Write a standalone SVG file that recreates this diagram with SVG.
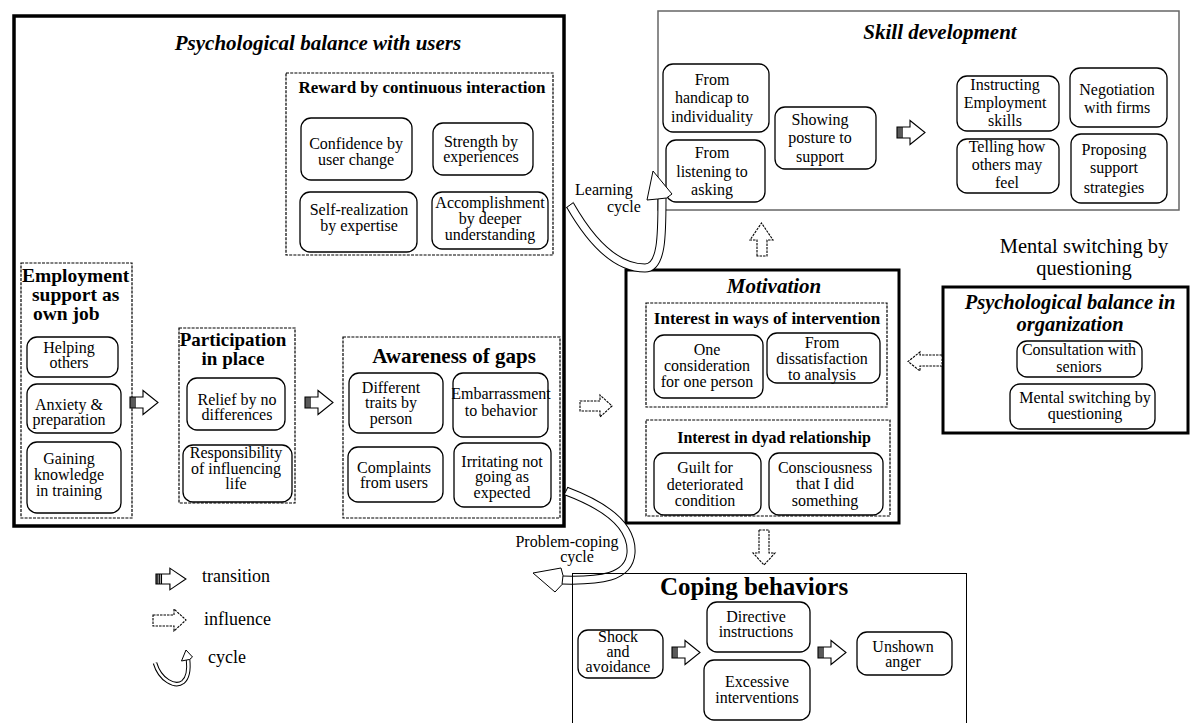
<svg xmlns="http://www.w3.org/2000/svg" xmlns:xlink="http://www.w3.org/1999/xlink" width="1192" height="723" viewBox="0 0 1192 723">
  <style>
    text { font-family: "Liberation Serif", "Times New Roman", serif; fill: #000; }
    .t { font-size: 16px; text-anchor: middle; }
    .ts { font-size: 16px; }
    .big { font-size: 20.5px; text-anchor: middle; }
    .h { font-weight: bold; text-anchor: middle; }
    .hi { font-weight: bold; font-style: italic; text-anchor: middle; }
    .lg { font-size: 18px; }
    .thick { fill: none; stroke: #000; stroke-width: 3.5; }
    .thick3 { fill: none; stroke: #000; stroke-width: 3; }
    .dash { fill: none; stroke: #000; stroke-width: 1.2; stroke-dasharray: 3 1.2; }
    .rb { fill: #fff; stroke: #000; stroke-width: 1.3; }
    .infl { fill: #fff; stroke: #000; stroke-width: 1.1; stroke-dasharray: 2.5 1; }
    .band-o { fill: none; stroke: #000; stroke-width: 9; }
    .band-i { fill: none; stroke: #fff; stroke-width: 7; }
    .head { fill: #fff; stroke: #000; stroke-width: 1; stroke-linejoin: miter; }
  </style>
  <defs>
    <!-- solid "transition" block arrow, origin at the tail's left-centre -->
    <g id="tr">
      <polygon points="0,-5.5 13,-5.5 13,-12 28,0 13,12 13,5.5 0,5.5" fill="#fff" stroke="#000" stroke-width="1.1"/>
      <path d="M1,-5.5V5.5M3,-5.5V5.5M5,-5.5V5.5" stroke="#000" stroke-width="1.3"/>
    </g>
  </defs>

  <rect width="1192" height="723" fill="#fff"/>

  <!-- Psychological balance with users -->
  <g id="balance-users">
    <rect class="thick" x="14" y="16" width="550" height="510"/>
    <text class="hi" x="318" y="50" font-size="21">Psychological balance with users</text>
  </g>

  <g id="reward">
    <rect class="dash" x="286" y="73" width="267" height="182"/>
    <text class="h" x="422" y="93" font-size="17">Reward by continuous interaction</text>
    <rect class="rb" x="301" y="118" width="111" height="62" rx="10"/>
    <text class="t" x="356" y="149">Confidence by</text>
    <text class="t" x="356" y="165">user change</text>
    <rect class="rb" x="433" y="123" width="100" height="52" rx="10"/>
    <text class="t" x="481" y="147">Strength by</text>
    <text class="t" x="481" y="162">experiences</text>
    <rect class="rb" x="300" y="192" width="117" height="60" rx="10"/>
    <text class="t" x="359" y="215">Self-realization</text>
    <text class="t" x="359" y="231">by expertise</text>
    <rect class="rb" x="432" y="192" width="116" height="57" rx="10"/>
    <text class="t" x="490" y="208">Accomplishment</text>
    <text class="t" x="490" y="224">by deeper</text>
    <text class="t" x="490" y="240">understanding</text>
  </g>

  <g id="employment">
    <rect class="dash" x="21" y="263" width="111" height="255"/>
    <text x="22" y="282" font-size="19.5" font-weight="bold">Employment</text>
    <text x="32" y="301" font-size="19.5" font-weight="bold">support as</text>
    <text x="33" y="320" font-size="19.5" font-weight="bold">own job</text>
    <rect class="rb" x="27" y="337" width="91" height="40" rx="10"/>
    <text class="t" x="69" y="353">Helping</text>
    <text class="t" x="69" y="368">others</text>
    <rect class="rb" x="27" y="384" width="94" height="49" rx="10"/>
    <text class="t" x="69" y="410">Anxiety &amp;</text>
    <text class="t" x="69" y="425">preparation</text>
    <rect class="rb" x="27" y="442" width="94" height="71" rx="10"/>
    <text class="t" x="69" y="464">Gaining</text>
    <text class="t" x="69" y="480">knowledge</text>
    <text class="t" x="69" y="496">in training</text>
  </g>

  <g id="participation">
    <rect class="dash" x="179" y="328" width="116" height="175"/>
    <text class="h" x="233" y="346" font-size="19">Participation</text>
    <text class="h" x="233" y="365" font-size="19">in place</text>
    <rect class="rb" x="187" y="378" width="98" height="52" rx="10"/>
    <text class="t" x="237" y="405">Relief by no</text>
    <text class="t" x="237" y="420">differences</text>
    <rect class="rb" x="183" y="445" width="109" height="57" rx="10"/>
    <text class="t" x="236" y="458">Responsibility</text>
    <text class="t" x="236" y="474">of influencing</text>
    <text class="t" x="236" y="489">life</text>
  </g>

  <g id="awareness">
    <rect class="dash" x="343" y="337" width="217" height="181"/>
    <text class="h" x="454" y="363" font-size="21">Awareness of gaps</text>
    <rect class="rb" x="349" y="373" width="94" height="60" rx="10"/>
    <text class="t" x="391" y="393">Different</text>
    <text class="t" x="391" y="408">traits by</text>
    <text class="t" x="391" y="424">person</text>
    <rect class="rb" x="453" y="373" width="95" height="64" rx="10"/>
    <text class="t" x="501" y="399">Embarrassment</text>
    <text class="t" x="501" y="416">to behavior</text>
    <rect class="rb" x="348" y="447" width="95" height="55" rx="10"/>
    <text class="t" x="394" y="473">Complaints</text>
    <text class="t" x="394" y="488">from users</text>
    <rect class="rb" x="454" y="443" width="97" height="64" rx="10"/>
    <text class="t" x="502" y="467">Irritating not</text>
    <text class="t" x="502" y="482">going as</text>
    <text class="t" x="502" y="498">expected</text>
  </g>

  <!-- Skill development -->
  <g id="skill">
    <rect x="658" y="11" width="521" height="199" fill="none" stroke="#666" stroke-width="1.5"/>
    <text class="hi" x="940" y="39" font-size="21">Skill development</text>
    <rect class="rb" x="663" y="64" width="106" height="68" rx="10"/>
    <text class="t" x="712" y="85">From</text>
    <text class="t" x="712" y="103">handicap to</text>
    <text class="t" x="712" y="122">individuality</text>
    <rect class="rb" x="666" y="140" width="99" height="62" rx="10"/>
    <text class="t" x="712" y="158">From</text>
    <text class="t" x="712" y="177">listening to</text>
    <text class="t" x="712" y="195">asking</text>
    <rect class="rb" x="775" y="107" width="101" height="62" rx="10"/>
    <text class="t" x="820" y="125">Showing</text>
    <text class="t" x="820" y="143">posture to</text>
    <text class="t" x="820" y="162">support</text>
    <rect class="rb" x="957" y="76" width="102" height="55" rx="10"/>
    <text class="t" x="1005" y="90">Instructing</text>
    <text class="t" x="1005" y="108">Employment</text>
    <text class="t" x="1005" y="126">skills</text>
    <rect class="rb" x="1070" y="68" width="97" height="59" rx="10"/>
    <text class="t" x="1117" y="95">Negotiation</text>
    <text class="t" x="1117" y="113">with firms</text>
    <rect class="rb" x="957" y="139" width="102" height="54" rx="10"/>
    <text class="t" x="1007" y="152">Telling how</text>
    <text class="t" x="1007" y="170">others may</text>
    <text class="t" x="1007" y="188">feel</text>
    <rect class="rb" x="1071" y="134" width="96" height="69" rx="10"/>
    <text class="t" x="1114" y="155">Proposing</text>
    <text class="t" x="1114" y="173">support</text>
    <text class="t" x="1114" y="193">strategies</text>
  </g>

  <!-- Motivation -->
  <g id="motivation">
    <rect class="thick3" x="626" y="270" width="273" height="253"/>
    <text class="hi" x="774" y="293" font-size="21">Motivation</text>
    <rect class="dash" x="646" y="303" width="241" height="104"/>
    <text class="h" x="767" y="324" font-size="17">Interest in ways of intervention</text>
    <rect class="rb" x="654" y="335" width="109" height="63" rx="10"/>
    <text class="t" x="707" y="355">One</text>
    <text class="t" x="707" y="371">consideration</text>
    <text class="t" x="707" y="387">for one person</text>
    <rect class="rb" x="767" y="333" width="113" height="50" rx="10"/>
    <text class="t" x="822" y="348">From</text>
    <text class="t" x="822" y="364">dissatisfaction</text>
    <text class="t" x="822" y="380">to analysis</text>
    <rect class="dash" x="646" y="420" width="244" height="96"/>
    <text class="h" x="774" y="443" font-size="16">Interest in dyad relationship</text>
    <rect class="rb" x="654" y="453" width="107" height="62" rx="10"/>
    <text class="t" x="705" y="473">Guilt for</text>
    <text class="t" x="705" y="490">deteriorated</text>
    <text class="t" x="705" y="506">condition</text>
    <rect class="rb" x="769" y="453" width="114" height="62" rx="10"/>
    <text class="t" x="825" y="473">Consciousness</text>
    <text class="t" x="825" y="489">that I did</text>
    <text class="t" x="825" y="506">something</text>
  </g>

  <!-- Psychological balance in organization -->
  <g id="balance-org">
    <text class="big" x="1084" y="253">Mental switching by</text>
    <text class="big" x="1084" y="275">questioning</text>
    <rect class="thick3" x="943" y="287" width="245" height="146"/>
    <text class="hi" x="1070" y="309" font-size="20.5">Psychological balance in</text>
    <text class="hi" x="1070" y="331" font-size="20.5">organization</text>
    <rect class="rb" x="1017" y="341" width="125" height="36" rx="10"/>
    <text class="t" x="1079" y="355">Consultation with</text>
    <text class="t" x="1079" y="372">seniors</text>
    <rect class="rb" x="1010" y="384" width="145" height="45" rx="10"/>
    <text class="t" x="1085" y="403">Mental switching by</text>
    <text class="t" x="1085" y="419">questioning</text>
  </g>

  <!-- Connectors: transitions, influences and cycles -->
  <g id="connectors">
    <use xlink:href="#tr" href="#tr" x="130" y="402.5"/>
    <use xlink:href="#tr" href="#tr" x="305" y="402.5"/>
    <use xlink:href="#tr" href="#tr" x="897" y="132.5"/>
    <use xlink:href="#tr" href="#tr" x="672" y="652.5"/>
    <use xlink:href="#tr" href="#tr" x="818" y="652.5"/>

    <polygon class="infl" points="580,401 600,401 600,395 612,406 600,417 600,411 580,411"/>
    <polygon class="infl" points="757,256 757,240 750,240 761.5,223 773,240 767,240 767,256"/>
    <polygon class="infl" points="759,530 769,530 769,553 775,553 764,565 753,553 759,553"/>
    <polygon class="infl" points="942,355 920,355 920,352 908,361.5 920,371 920,366 942,366"/>

    <!-- learning cycle -->
    <path class="band-o" d="M570,205 C590,240 615,268 645,268 C662,268 662,235 662,198"/>
    <path class="band-i" d="M570,205 C590,240 615,268 645,268 C662,268 662,235 662,198"/>
    <line x1="566.4" y1="207.7" x2="573.6" y2="202.3" stroke="#000" stroke-width="1"/>
    <polygon class="head" points="657.5,199 647,200 653,171 672,194 666.5,198"/>
    <text class="ts" x="575" y="195">Learning</text>
    <text class="ts" x="607" y="212">cycle</text>

    <!-- problem-coping cycle -->
    <path class="band-o" d="M566,491 C598,503 633,522 631,553 C629,578 600,581 562,580"/>
    <path class="band-i" d="M566,491 C598,503 633,522 631,553 C629,578 600,581 562,580"/>
    <line x1="564" y1="495" x2="568" y2="487" stroke="#000" stroke-width="1"/>
    <polygon class="head" points="563,575.5 561,568 533,573 555,592 562,584.5"/>
    <text class="t" x="567" y="547">Problem-coping</text>
    <text class="t" x="577" y="562">cycle</text>
  </g>

  <!-- Coping behaviors -->
  <g id="coping">
    <rect x="572.5" y="573.5" width="394" height="170" fill="none" stroke="#000" stroke-width="1"/>
    <text class="h" x="754" y="595" font-size="25">Coping behaviors</text>
    <rect class="rb" x="578" y="630" width="85" height="48" rx="10"/>
    <text class="t" x="618" y="642">Shock</text>
    <text class="t" x="618" y="657">and</text>
    <text class="t" x="618" y="672">avoidance</text>
    <rect class="rb" x="707" y="602" width="103" height="50" rx="10"/>
    <text class="t" x="756" y="622">Directive</text>
    <text class="t" x="756" y="637">instructions</text>
    <rect class="rb" x="704" y="660" width="106" height="60" rx="10"/>
    <text class="t" x="757" y="687">Excessive</text>
    <text class="t" x="757" y="703">interventions</text>
    <rect class="rb" x="857" y="632" width="95" height="43" rx="10"/>
    <text class="t" x="903" y="652">Unshown</text>
    <text class="t" x="903" y="667">anger</text>
  </g>

  <!-- Legend -->
  <g id="legend">
    <use xlink:href="#tr" href="#tr" x="156" y="579" transform="translate(156,579) scale(1.07,0.9) translate(-156,-579)"/>
    <text class="lg" x="202" y="582">transition</text>
    <polygon class="infl" points="153,615 174,615 174,609 186,620 174,631 174,626 153,626"/>
    <text class="lg" x="204" y="625">influence</text>
    <path d="M155,663 C160,680 175,688 183,682 C189,677 189,668 188,659" fill="none" stroke="#000" stroke-width="4.5"/>
    <path d="M155,663 C160,680 175,688 183,682 C189,677 189,668 188,659" fill="none" stroke="#fff" stroke-width="2.5"/>
    <polygon class="head" points="186.5,660 181.5,661 186,650 192.5,657 189.5,659.5"/>
    <text class="lg" x="208" y="663">cycle</text>
  </g>
</svg>
